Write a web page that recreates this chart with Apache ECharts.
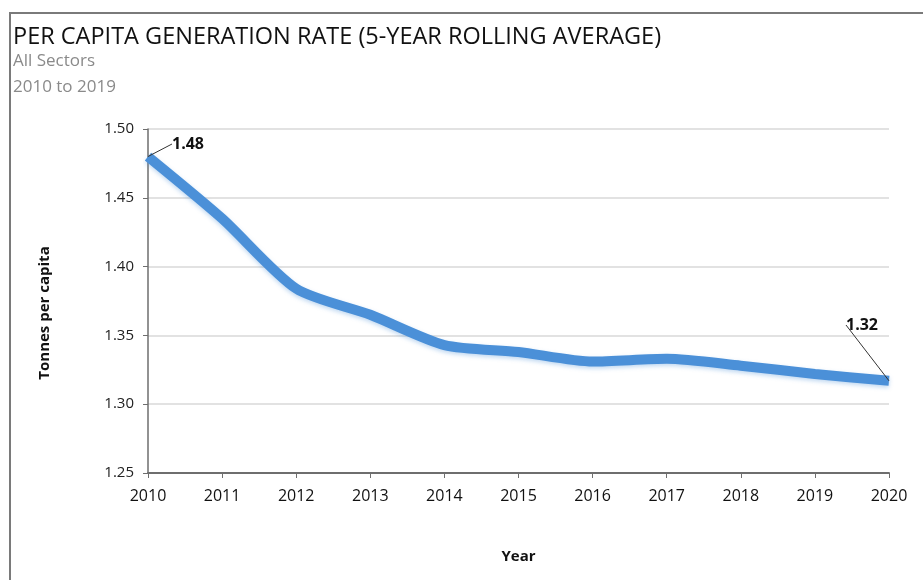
<!DOCTYPE html>
<html>
<head>
<meta charset="utf-8">
<script src="https://cdn.jsdelivr.net/npm/echarts@6/dist/echarts.min.js"></script>
<style>
  html, body { margin: 0; padding: 0; background: #fff; }
  .frame {
    position: absolute; left: 9px; top: 12px; width: 914px; height: 568px;
    border-top: 2px solid #7a7a7a; border-left: 2px solid #7a7a7a;
  }
  .chart { position: absolute; left: 0; top: 0; width: 923px; height: 580px; }
</style>
</head>
<body>
<div class="frame"></div>
<div class="chart"></div>
<script>
// 数据
const years = ['2010', '2011', '2012', '2013', '2014', '2015', '2016', '2017', '2018', '2019', '2020'];
const rates = [1.48, 1.435, 1.384, 1.365, 1.343, 1.338, 1.331, 1.333, 1.328, 1.322, 1.317];
const labelledIdx = [0, 10]; // 只标注首尾两个点

(function () {
  const myChart = echarts.init(document.querySelector('.chart'));
  const font = 'Open Sans, Lato, sans-serif';

  let option = {
    animation: false,
    title: [{
      text: 'PER CAPITA GENERATION RATE (5-YEAR ROLLING AVERAGE)',
      left: 8, top: 20,
      textStyle: { fontFamily: font, fontSize: 23.5, fontWeight: 'normal', color: '#111' }
    }, {
      text: 'All Sectors',
      left: 8, top: 48,
      textStyle: { fontFamily: font, fontSize: 17, fontWeight: 'normal', color: '#8a8a8a' }
    }, {
      text: '2010 to 2019',
      left: 8, top: 74,
      textStyle: { fontFamily: font, fontSize: 17, fontWeight: 'normal', color: '#8a8a8a' }
    }],
    grid: {
      left: 148,
      right: 34,
      top: 129,
      bottom: 107
    },
    xAxis: {
      type: 'category',
      boundaryGap: false,
      data: years,
      name: 'Year',
      nameLocation: 'middle',
      nameGap: 76,
      nameTextStyle: { fontFamily: font, fontSize: 15, fontWeight: 'bold', color: '#111' },
      axisLine: { lineStyle: { color: '#6e6e6e', width: 2 } },
      axisTick: { show: true, alignWithLabel: true, length: 5, lineStyle: { color: '#6e6e6e' } },
      axisLabel: { fontFamily: font, fontSize: 16, color: '#111', margin: 15 }
    },
    yAxis: {
      type: 'value',
      min: 1.25,
      max: 1.5,
      interval: 0.05,
      name: 'Tonnes per capita',
      nameLocation: 'middle',
      nameGap: 96,
      nameRotate: 90,
      nameTextStyle: {
        fontFamily: font, fontSize: 15, fontWeight: 'bold', color: '#111',
        padding: [0, 24, 0, 0]
      },
      axisLine: { show: true, lineStyle: { color: '#6e6e6e', width: 1.5 } },
      axisTick: { show: true, length: 5, lineStyle: { color: '#6e6e6e' } },
      axisLabel: {
        fontFamily: font, fontSize: 15, color: '#222', margin: 14,
        formatter: function (v) { return v.toFixed(2); }
      },
      splitLine: { lineStyle: { color: '#d9d9d9', width: 1.5 } }
    },
    series: [{
      name: 'Rate',
      type: 'line',
      smooth: 0.25,
      showSymbol: true,
      symbol: 'circle',
      symbolSize: 0,
      lineStyle: {
        color: '#4b90d8',
        width: 10,
        shadowColor: 'rgba(74, 143, 216, 0.35)',
        shadowBlur: 4,
        shadowOffsetY: 2
      },
      data: rates.map(function (v, i) {
        if (labelledIdx.indexOf(i) === -1) return v;
        return {
          value: v,
          label: {
            show: true,
            formatter: function (p) { return p.value.toFixed(2); },
            fontFamily: font, fontSize: 16, fontWeight: 'bold', color: '#111'
          }
        };
      }),
      labelLine: { show: true, lineStyle: { color: '#333', width: 1 } },
      labelLayout: function (p) {
        if (p.dataIndex === 0) {
          return { x: 188, y: 144, align: 'center', verticalAlign: 'middle' };
        }
        return { x: 862, y: 325, align: 'center', verticalAlign: 'middle' };
      }
    }]
  };
  myChart.setOption(option);
  window.addEventListener('resize', function () {
    myChart.resize();
  });
})();
</script>
</body>
</html>
